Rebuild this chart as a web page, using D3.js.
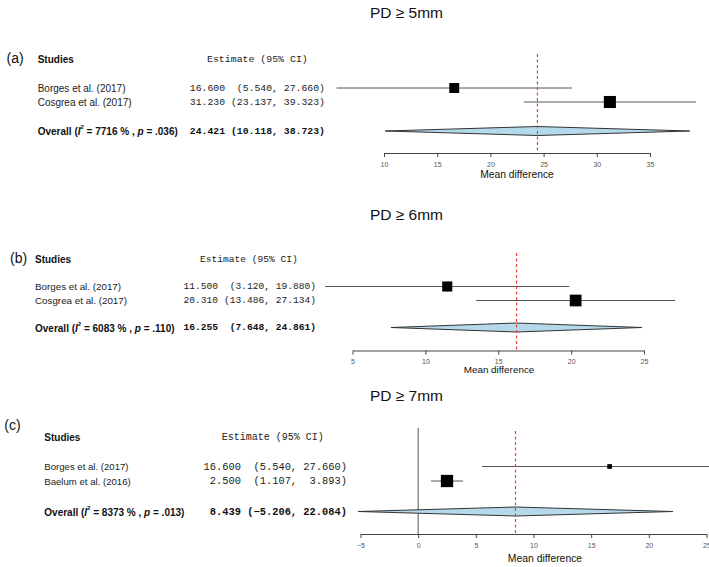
<!DOCTYPE html>
<html><head><meta charset="utf-8">
<script src="https://cdn.jsdelivr.net/npm/d3@7"></script>
<style>body{margin:0;background:#fff} svg{display:block} text{white-space:pre}</style>
</head><body><svg id="chart" width="709" height="567"></svg>
<script>
// ---- data ----
const panelTags = ["(a)", "(b)", "(c)"];
const panelTitles = ["PD \u2265 5mm", "PD \u2265 6mm", "PD \u2265 7mm"];

const studiesA = ["Borges et al. (2017)", "Cosgrea et al. (2017)"];
const estA = [16.600, 31.230];
const lowA = [5.540, 23.137];
const upA = [27.660, 39.323];
const weightA = [44, 56];

const studiesB = ["Borges et al. (2017)", "Cosgrea et al. (2017)"];
const estB = [11.500, 20.310];
const lowB = [3.120, 13.486];
const upB = [19.880, 27.134];
const weightB = [45, 54];

const studiesC = ["Borges et al. (2017)", "Baelum et al. (2016)"];
const estC = [16.600, 2.500];
const lowC = [5.540, 1.107];
const upC = [27.660, 3.893];
const weightC = [15, 57];

const overallEst = [24.421, 16.255, 8.439];
const overallLow = [10.118, 7.648, -5.206];
const overallUp = [38.723, 24.861, 22.084];
const overallI2 = ["7716", "6083", "8373"];
const overallP = [".036", ".110", ".013"];

const ticksA = [10, 15, 20, 25, 30, 35];
const ticksB = [5, 10, 15, 20, 25];
const ticksC = [-5, 0, 5, 10, 15, 20, 25];

// ---- layout ----
const layouts = [
  {x0:384, x1:650, tagX:6.5, tagY:58, titleY:18, headY:59, rows:[88,102], overallY:131, axisY:153, refTop:54,
   studyX:37.7, headX:207, numEnd:325, monoSize:9.8, headSize:9.9, labelSize:10, mdY:178, mdX:517, mdSize:10.3},
  {x0:352.5, x1:644, tagX:10, tagY:258, titleY:220, headY:259, rows:[286.5,300.5], overallY:327.5, axisY:350.5, refTop:253,
   studyX:35, headX:200, numEnd:316, monoSize:9.6, headSize:9.6, labelSize:9.8, mdY:373, mdX:499, mdSize:9.9},
  {x0:360.5, x1:706.5, tagX:4.3, tagY:425, titleY:401, headY:437, rows:[466.5,481], overallY:511.5, axisY:534, refTop:431,
   studyX:44.3, headX:221.7, numEnd:347, monoSize:10.4, headSize:10, labelSize:9.6, mdY:561.5, mdX:545, mdSize:10.4, zeroTop:428}
];

const panels = [
  {studies:studiesA, est:estA, low:lowA, up:upA, w:weightA, ticks:ticksA},
  {studies:studiesB, est:estB, low:lowB, up:upB, w:weightB, ticks:ticksB},
  {studies:studiesC, est:estC, low:lowC, up:upC, w:weightC, ticks:ticksC}
];

const svg = d3.select("#chart");
const SANS = "'Liberation Sans', Arial, Helvetica, sans-serif";
const MONO = "'Liberation Mono', 'Courier New', monospace";
const fmt = d3.format(".3f");
const sizeScale = d3.scaleLinear().domain([0, 100]).range([2, 20]);

panels.forEach((P, i) => {
  const L = layouts[i];
  const g = svg.append("g");
  const x = d3.scaleLinear().domain(d3.extent(P.ticks)).range([L.x0, L.x1]);

  // title and tag
  g.append("text").attr("x", 406.5).attr("y", L.titleY).attr("text-anchor", "middle")
    .attr("font-family", SANS).attr("font-size", 15.5).attr("fill", "#111").text(panelTitles[i]);
  g.append("text").attr("x", L.tagX).attr("y", L.tagY).attr("dominant-baseline", "central")
    .attr("font-family", SANS).attr("font-size", 14).attr("fill", "#111").text(panelTags[i]);

  // headers
  g.append("text").attr("x", L.studyX).attr("y", L.headY).attr("dominant-baseline", "central")
    .attr("font-family", SANS).attr("font-size", 10).attr("font-weight", "bold").attr("fill", "#111").text("Studies");
  g.append("text").attr("x", L.headX).attr("y", L.headY).attr("dominant-baseline", "central")
    .attr("font-family", MONO).attr("font-size", L.headSize).attr("fill", "#222").text("Estimate (95% CI)");

  // formatted strings
  const allE = P.est.concat([overallEst[i]]).map(fmt);
  const allL = P.low.concat([overallLow[i]]).map(fmt);
  const allU = P.up.concat([overallUp[i]]).map(fmt);
  const wE = d3.max(allE, s => s.length), wL = d3.max(allL, s => s.length), wU = d3.max(allU, s => s.length);
  const rowStr = k => allE[k].padStart(wE) + " " + " ".repeat(wL - allL[k].length) + "(" + allL[k] + ", " + allU[k].padStart(wU) + ")";

  // axis
  const axis = d3.axisBottom(x).tickValues(P.ticks).tickSize(4).tickSizeOuter(0).tickFormat(d3.format("d"));
  const ax = g.append("g").attr("transform", `translate(0,${L.axisY})`).call(axis);
  ax.select(".domain").attr("stroke", "#444");
  ax.selectAll(".tick line").attr("stroke", "#444");
  ax.selectAll(".tick text").attr("font-family", SANS).attr("font-size", 7).attr("fill", "#555").attr("y", 9);
  g.append("text").attr("x", L.mdX).attr("y", L.mdY).attr("text-anchor", "middle")
    .attr("font-family", SANS).attr("font-size", L.mdSize).attr("fill", "#111").text("Mean difference");

  // zero line
  if (L.zeroTop !== undefined) {
    g.append("line").attr("x1", x(0)).attr("x2", x(0)).attr("y1", L.zeroTop).attr("y2", L.axisY)
      .attr("stroke", "#555").attr("stroke-width", 1);
  }

  // study rows
  P.studies.forEach((s, k) => {
    const y = L.rows[k];
    g.append("text").attr("x", L.studyX).attr("y", y).attr("dominant-baseline", "central")
      .attr("font-family", SANS).attr("font-size", L.labelSize).attr("fill", "#222").text(s);
    g.append("text").attr("x", L.numEnd).attr("y", y).attr("dominant-baseline", "central").attr("text-anchor", "end")
      .attr("font-family", MONO).attr("font-size", L.monoSize).attr("fill", "#222").text(rowStr(k));
    g.append("line").attr("x1", x(P.low[k])).attr("x2", x(P.up[k])).attr("y1", y).attr("y2", y)
      .attr("stroke", "#555").attr("stroke-width", 1);
    const sz = sizeScale(P.w[k]);
    g.append("rect").attr("x", x(P.est[k]) - sz / 2).attr("y", y - sz / 2).attr("width", sz).attr("height", sz)
      .attr("fill", "#000");
  });

  // overall row
  const oy = L.overallY;
  const ot = g.append("text").attr("x", L.studyX).attr("y", oy).attr("dominant-baseline", "central")
    .attr("font-family", SANS).attr("font-size", 10).attr("font-weight", "bold").attr("fill", "#111");
  ot.append("tspan").text("Overall (");
  ot.append("tspan").attr("font-style", "italic").text("I");
  ot.append("tspan").attr("font-size", 6).attr("dy", -4).text("2");
  ot.append("tspan").attr("dy", 4).text(" = " + overallI2[i] + " % , ");
  ot.append("tspan").attr("font-style", "italic").text("p");
  ot.append("tspan").text(" = " + overallP[i] + ")");
  g.append("text").attr("x", L.numEnd).attr("y", oy).attr("dominant-baseline", "central").attr("text-anchor", "end")
    .attr("font-family", MONO).attr("font-size", L.monoSize).attr("font-weight", "bold").attr("fill", "#111")
    .text(rowStr(P.studies.length));

  const h = 4.5;
  const pts = [[x(overallLow[i]), oy], [x(overallEst[i]), oy - h], [x(overallUp[i]), oy], [x(overallEst[i]), oy + h]];
  g.append("polygon").attr("points", pts.map(p => p.join(",")).join(" "))
    .attr("fill", "#b3d9ea").attr("stroke", "#333").attr("stroke-width", 1);

  // reference line at overall estimate
  g.append("line").attr("x1", x(overallEst[i])).attr("x2", x(overallEst[i])).attr("y1", L.refTop).attr("y2", L.axisY)
    .attr("stroke", "#e8453c").attr("stroke-width", 1.2).attr("stroke-dasharray", "3,2.5");
});
</script></body></html>
